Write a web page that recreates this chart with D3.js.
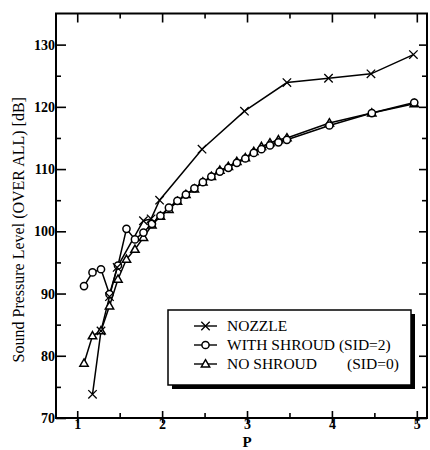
<!DOCTYPE html>
<meta charset="utf-8">
<style>
body { margin: 0; background: #fff; }
text { font-family: "Liberation Serif", "DejaVu Serif", serif; fill: #000; }
.tick text { font-weight: bold; font-size: 14px; }
.axis path { display: none; }
.axis line { stroke: #000; stroke-width: 1.6; }
.curve { fill: none; stroke: #000; stroke-width: 1.5; }
.mark { fill: #fff; stroke: #000; stroke-width: 1.5; }
</style>
<svg width="430" height="450"></svg>
<script src="https://cdn.jsdelivr.net/npm/d3@7"></script>
<script>
// P values shared by the two shroud series
var pShroud = [1.08, 1.18, 1.28, 1.38, 1.48, 1.58, 1.68, 1.78, 1.88, 1.98, 2.08, 2.18, 2.28, 2.38,
  2.48, 2.58, 2.68, 2.78, 2.88, 2.98, 3.08, 3.17, 3.27, 3.37, 3.47, 3.97, 4.47, 4.97];
var withShroud = [91.2, 93.4, 93.9, 89.9, 94.5, 100.4, 98.7, 99.8, 101.2, 102.5, 103.8, 104.9, 105.9, 106.9,
  107.9, 108.8, 109.6, 110.2, 111.0, 111.7, 112.6, 113.2, 113.8, 114.3, 114.7, 117.0, 119.0, 120.7];
var noShroud = [78.8, 83.2, 84.0, 88.0, 92.3, 95.5, 97.1, 99.0, 101.0, 102.4, 103.5, 104.8, 105.9, 106.8,
  107.9, 108.8, 109.8, 110.4, 111.2, 111.8, 112.8, 113.6, 114.2, 114.7, 115.0, 117.4, 119.0, 120.5];

var pNozzle = [1.18, 1.28, 1.38, 1.47, 1.78, 1.87, 1.97, 2.47, 2.97, 3.47, 3.96, 4.46, 4.96];
var nozzle = [73.8, 84.0, 89.5, 94.2, 101.7, 102.0, 105.0, 113.2, 119.3, 123.9, 124.6, 125.3, 128.4];

var xTicks = [1, 2, 3, 4, 5],
    xMinor = [1.5, 2.5, 3.5, 4.5],
    yTicks = [70, 80, 90, 100, 110, 120, 130],
    yMinor = [75, 85, 95, 105, 115, 125];

var legendNames = ["NOZZLE", "WITH SHROUD (SID=2)", "NO SHROUD"];

var svg = d3.select("svg");

var x = d3.scaleLinear().domain([0.75, 5.12]).range([56, 427]),
    y = d3.scaleLinear().domain([70, 135]).range([418, 13.5]);

var fLeft = x.range()[0], fRight = x.range()[1],
    fTop = y.range()[1], fBottom = y.range()[0];

// frame
svg.append("rect")
    .attr("x", fLeft).attr("y", fTop)
    .attr("width", fRight - fLeft).attr("height", fBottom - fTop)
    .attr("fill", "none").attr("stroke", "#000").attr("stroke-width", 2);

// left axis, ticks pointing inward
svg.append("g").attr("class", "axis")
    .attr("transform", "translate(" + fLeft + ",0)")
    .call(d3.axisLeft(y).tickValues(yTicks).tickSize(-10).tickPadding(1).tickSizeOuter(0));
svg.append("g").attr("class", "axis")
    .attr("transform", "translate(" + fLeft + ",0)")
    .call(d3.axisLeft(y).tickValues(yMinor).tickSize(-5).tickFormat("").tickSizeOuter(0));

// right axis
svg.append("g").attr("class", "axis")
    .attr("transform", "translate(" + fRight + ",0)")
    .call(d3.axisRight(y).tickValues(yTicks).tickSize(-8).tickFormat("").tickSizeOuter(0));
svg.append("g").attr("class", "axis")
    .attr("transform", "translate(" + fRight + ",0)")
    .call(d3.axisRight(y).tickValues(yMinor).tickSize(-5).tickFormat("").tickSizeOuter(0));

// bottom axis
var xAx = svg.append("g").attr("class", "axis")
    .attr("transform", "translate(0," + fBottom + ")")
    .call(d3.axisBottom(x).tickValues(xTicks).tickFormat(d3.format("d"))
      .tickSize(-7).tickPadding(-2).tickSizeOuter(0));
xAx.selectAll(".tick line").attr("y2", 5).attr("y1", -7);
xAx.selectAll(".tick text").attr("dy", "0.95em");
svg.append("g").attr("class", "axis")
    .attr("transform", "translate(0," + fBottom + ")")
    .call(d3.axisBottom(x).tickValues(xMinor).tickSize(-5).tickFormat("").tickSizeOuter(0));

// top axis
svg.append("g").attr("class", "axis")
    .attr("transform", "translate(0," + fTop + ")")
    .call(d3.axisTop(x).tickValues(xTicks).tickSize(-9).tickFormat("").tickSizeOuter(0));
svg.append("g").attr("class", "axis")
    .attr("transform", "translate(0," + fTop + ")")
    .call(d3.axisTop(x).tickValues(xMinor).tickSize(-5).tickFormat("").tickSizeOuter(0));

// axis titles
svg.append("text")
    .attr("transform", "translate(24," + ((fTop + fBottom) / 2 + 14) + ") rotate(-90)")
    .attr("text-anchor", "middle")
    .style("font-size", "16px")
    .text("Sound Pressure Level (OVER ALL) [dB]");

svg.append("text")
    .attr("x", x(3)).attr("y", 446.5)
    .attr("text-anchor", "middle")
    .style("font-size", "15px").style("font-weight", "bold")
    .text("P");

// series
var line = d3.line().x(function(d) { return x(d[0]); }).y(function(d) { return y(d[1]); });

var timesType = d3.symbolTimes || d3.symbolX;
var symNoz = d3.symbol().type(timesType).size(48),
    symTri = d3.symbol().type(d3.symbolTriangle).size(30);

var series = [
  { name: legendNames[0], pts: d3.zip(pNozzle, nozzle), kind: "x" },
  { name: legendNames[1], pts: d3.zip(pShroud, withShroud), kind: "o" },
  { name: legendNames[2], pts: d3.zip(pShroud, noShroud), kind: "t" }
];

function drawMark(g, kind, cx, cy) {
  if (kind === "o") {
    g.append("circle").attr("class", "mark").attr("cx", cx).attr("cy", cy).attr("r", 3.6);
  } else if (kind === "t") {
    g.append("path").attr("class", "mark").attr("d", symTri())
      .attr("transform", "translate(" + cx + "," + (cy + 0.5) + ")");
  } else {
    g.append("path").attr("class", "mark").attr("d", symNoz())
      .style("stroke-width", 1.3)
      .attr("transform", "translate(" + cx + "," + cy + ")");
  }
}

series.forEach(function(s) {
  svg.append("path").datum(s.pts).attr("class", "curve").attr("d", line);
});
series.slice().reverse().forEach(function(s) {
  var g = svg.append("g");
  s.pts.forEach(function(p) { drawMark(g, s.kind, x(p[0]), y(p[1])); });
});

// legend
var lg = svg.append("g").attr("transform", "translate(168,310)");
lg.append("rect").attr("x", 4).attr("y", 4).attr("width", 243).attr("height", 75).attr("fill", "#000");
lg.append("rect").attr("width", 243).attr("height", 75)
    .attr("fill", "#fff").attr("stroke", "#000").attr("stroke-width", 1.5);

series.forEach(function(s, i) {
  var ly = 16 + i * 19;
  lg.append("line").attr("x1", 26).attr("x2", 49).attr("y1", ly).attr("y2", ly)
    .attr("stroke", "#000").attr("stroke-width", 1.4);
  drawMark(lg, s.kind, 37.5, ly);
  lg.append("text").attr("x", 59).attr("y", ly + 5)
    .style("font-size", "15.5px").text(s.name);
});
lg.append("text").attr("x", 179).attr("y", 16 + 2 * 19 + 5)
    .style("font-size", "15.5px").text("(SID=0)");
</script>
